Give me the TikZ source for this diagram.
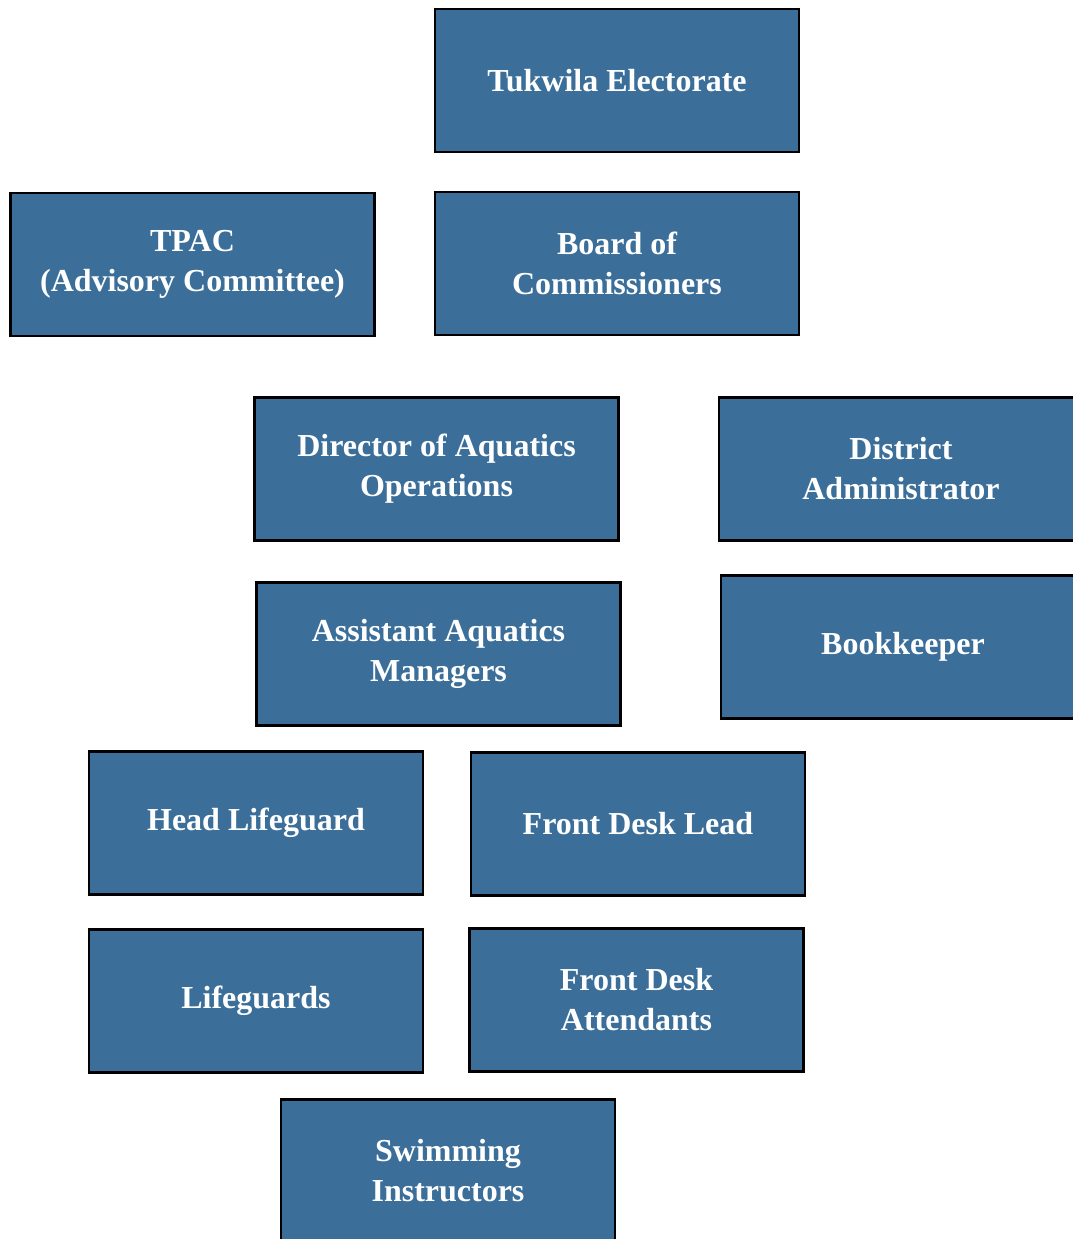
\documentclass[tikz,border=0pt]{standalone}
\usepackage{fontspec}
\setmainfont{Liberation Serif}
\usepackage{xcolor}
\usetikzlibrary{positioning}
\definecolor{staffblue}{RGB}{59, 111, 153}

\begin{document}
\begin{tikzpicture}[x=1pt, y=-1pt, every node/.style={font=\fontsize{32}{40}\selectfont\bfseries},
    role/.style={draw=black, line width=2.6pt, fill=staffblue, text=white, align=center, minimum width=364pt, minimum height=143pt, inner sep=0pt},
    crew/.style={role, minimum width=334pt}]
    \useasboundingbox (0,0) rectangle (1073,1239);
    \clip (0,0) rectangle (1073,1239);

    % board level
    \node[role] (ELECT) at (617,80.5) {Tukwila Electorate};
    \node[role] (TPAC) at (192.5,264.5) {TPAC\\(Advisory Committee)};
    \node[role] (BOARD) at (617,263.5) {Board of\\Commissioners};

    % management
    \node[role] (DIR) at (436.5,469) {Director of Aquatics\\Operations};
    \node[role] (ADMIN) at (901,469) {District\\Administrator};
    \node[role] (ASST) at (438.5,654) {Assistant Aquatics\\Managers};
    \node[role] (BOOK) at (903,647) {Bookkeeper};

    % staff
    \node[crew] (HEADLG) at (256,823) {Head Lifeguard};
    \node[crew] (FDLEAD) at (638,824) {Front Desk Lead};
    \node[crew] (LG) at (256,1001) {Lifeguards};
    \node[crew] (FDATT) at (636.5,1000) {Front Desk\\Attendants};
    \node[crew] (SWIM) at (448,1171) {Swimming\\Instructors};
\end{tikzpicture}
\end{document}
